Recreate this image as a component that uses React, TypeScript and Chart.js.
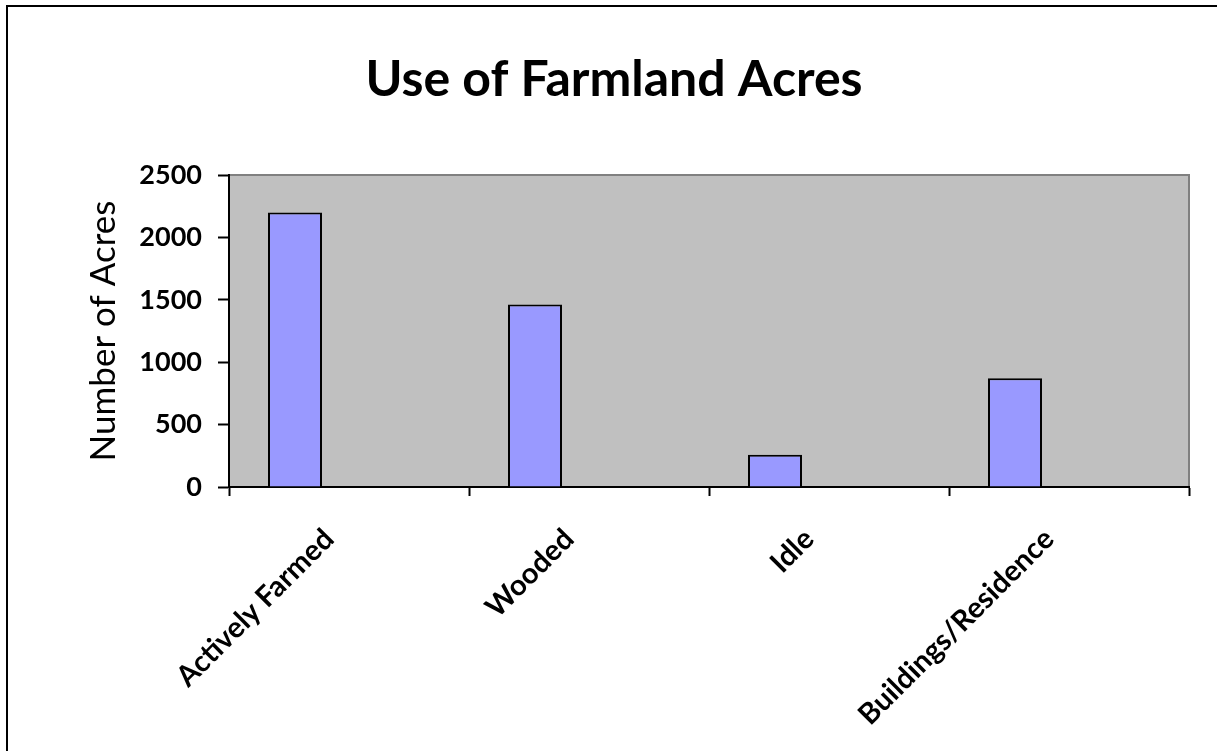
import React, { useEffect, useRef } from 'react';
import { Chart, registerables } from 'chart.js';

Chart.register(...registerables);

const FONT = 'Lato, "Open Sans", sans-serif';

const chartTitle = 'Use of Farmland Acres';
const yAxisTitle = 'Number of Acres';
const categories = ['Actively Farmed', 'Wooded', 'Idle', 'Buildings/Residence'];
const acres = [2200, 1462, 258, 872];
// Excel chart had two further (empty) series in each cluster
const emptySeriesB: (number | null)[] = [null, null, null, null];
const emptySeriesC: (number | null)[] = [null, null, null, null];
const yMin = 0;
const yMax = 2500;
const yStep = 500;

export default function App() {
  const ref = useRef<HTMLCanvasElement>(null);

  useEffect(() => {
    if (!ref.current) return;
    const backdrop = {
      id: 'backdrop',
      beforeDraw(chart: any) {
        const { ctx, chartArea: a } = chart;
        ctx.save();
        ctx.fillStyle = '#ffffff';
        ctx.fillRect(0, 0, chart.width, chart.height);
        ctx.fillStyle = '#c0c0c0';
        ctx.fillRect(a.left, a.top, a.right - a.left, a.bottom - a.top);
        ctx.strokeStyle = '#808080';
        ctx.lineWidth = 2;
        ctx.beginPath();
        ctx.moveTo(a.left, a.top);
        ctx.lineTo(a.right, a.top);
        ctx.lineTo(a.right, a.bottom);
        ctx.stroke();
        ctx.strokeStyle = '#000000';
        ctx.lineWidth = 2;
        ctx.beginPath();
        ctx.moveTo(7, chart.height + 5);
        ctx.lineTo(7, 6);
        ctx.lineTo(chart.width + 5, 6);
        ctx.stroke();
        ctx.restore();
      },
    };

    const chart = new Chart(ref.current, {
      type: 'bar',
      data: {
        labels: categories,
        datasets: [
          { label: 'Acres', data: acres, backgroundColor: '#9999ff', borderColor: '#000000', borderWidth: 2 },
          { label: 'B', data: emptySeriesB, backgroundColor: '#993366', borderColor: '#000000', borderWidth: 2 },
          { label: 'C', data: emptySeriesC, backgroundColor: '#ffffcc', borderColor: '#000000', borderWidth: 2 },
        ],
      },
      plugins: [backdrop],
      options: {
        responsive: false,
        animation: false,
        devicePixelRatio: 1,
        layout: { padding: { left: 39, right: 39, top: 0, bottom: 0 } },
        datasets: { bar: { categoryPercentage: 0.675, barPercentage: 1 } },
        plugins: {
          legend: { display: false },
          tooltip: { enabled: false },
          title: {
            display: true,
            text: chartTitle,
            color: '#000000',
            font: { family: FONT, size: 50, weight: 'bold', lineHeight: 1.2 },
            padding: { top: 50, bottom: 65 },
          },
        },
        scales: {
          x: {
            grid: {
              offset: true,
              drawOnChartArea: false,
              drawTicks: true,
              tickLength: 9,
              tickColor: '#000000',
              tickWidth: 2,
              color: '#000000',
            },
            border: { display: true, color: '#000000', width: 2 },
            ticks: {
              color: '#000000',
              font: { family: FONT, size: 29, weight: 'bold' },
              minRotation: 45,
              maxRotation: 45,
              autoSkip: false,
              labelOffset: -20,
              padding: 26,
            },
            afterFit(scale: any) {
              scale.height = 264;
            },
          },
          y: {
            min: yMin,
            max: yMax,
            grid: {
              drawOnChartArea: false,
              drawTicks: true,
              tickLength: 11,
              tickColor: '#000000',
              tickWidth: 2,
              color: '#000000',
            },
            border: { display: true, color: '#000000', width: 2 },
            ticks: {
              stepSize: yStep,
              color: '#000000',
              font: { family: FONT, size: 27, weight: 'bold' },
              padding: 16,
              callback: (v: any) => String(v),
            },
            title: {
              display: true,
              text: yAxisTitle,
              color: '#000000',
              font: { family: FONT, size: 35, weight: 'normal', lineHeight: 1.2 },
              padding: { top: 44, bottom: 0 },
            },
            afterFit(scale: any) {
              scale.width = 190;
            },
          },
        },
      },
    });
    return () => chart.destroy();
  }, []);

  return (
    <div style={{ position: 'absolute', left: 0, top: 0, width: 1217, height: 751, overflow: 'hidden', background: '#fff' }}>
      <canvas ref={ref} width={1228} height={751} style={{ display: 'block' }} />
    </div>
  );
}
